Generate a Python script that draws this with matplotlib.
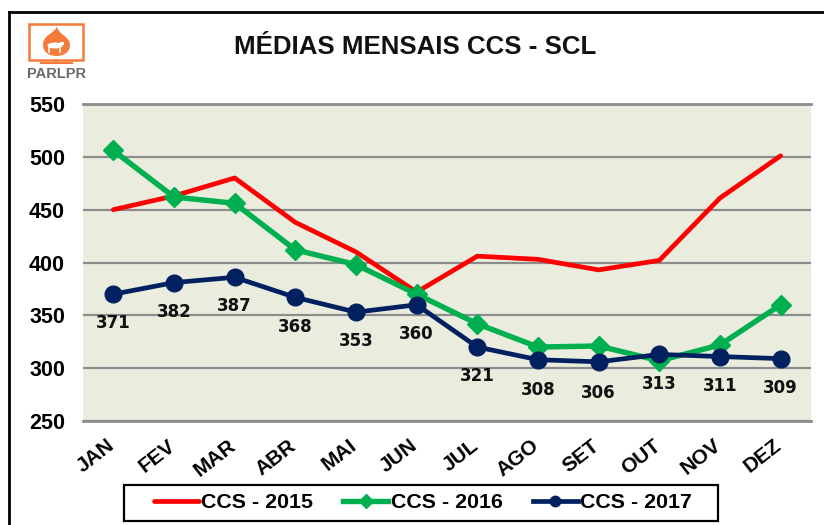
import matplotlib
matplotlib.use("Agg")
import matplotlib.pyplot as plt
from matplotlib.patches import Rectangle, PathPatch, Ellipse
from matplotlib.path import Path
from matplotlib.transforms import ScaledTranslation

plt.rcParams['font.family'] = ['Liberation Sans', 'DejaVu Sans']

W, H = 824, 525

# data
months = ["JAN", "FEV", "MAR", "ABR", "MAI", "JUN", "JUL", "AGO", "SET", "OUT", "NOV", "DEZ"]
ccs_2015 = [450, 463, 480, 438, 410, 372, 406, 403, 393, 402, 461, 501]
ccs_2016 = [506, 462, 456, 412, 398, 370, 342, 320, 321, 307, 322, 360]
ccs_2017 = [370, 381, 386, 367, 353, 360, 320, 308, 306, 313, 311, 309]
labels_2017 = ["371", "382", "387", "368", "353", "360", "321", "308", "306", "313", "311", "309"]
y_ticks = [250, 300, 350, 400, 450, 500, 550]

# label offsets under the 2017 line, in points
label_dy = [-20.5, -21, -20.5, -21, -21, -21, -20.5, -21.5, -22.5, -21.5, -21.5, -21]

RED = "#FF0000"
GREEN = "#00B050"
NAVY = "#002060"
ORANGE = "#F47B3A"
GRAY = "#8C8C8C"


def box(x0, y0, x1, y1):
    # pixel box (top-left origin) to figure fractions
    return [x0 / W, 1 - y1 / H, (x1 - x0) / W, (y1 - y0) / H]


fig = plt.figure(figsize=(W / 100, H / 100), dpi=100, facecolor="white")

# outer chart frame, only top and left show in the crop
fig.add_artist(plt.Line2D([9 / W, 9 / W], [0, 1 - 12 / H], color="black", lw=2))
fig.add_artist(plt.Line2D([9 / W, 1], [1 - 12 / H, 1 - 12 / H], color="black", lw=2))

ax = fig.add_axes(box(83, 104, 811, 421))
ax.set_facecolor("#EAEDDD")
x = list(range(len(months)))
ax.plot(x, ccs_2015, color=RED, lw=3.4, label="CCS - 2015", solid_capstyle="round", zorder=3)
ax.plot(x, ccs_2016, color=GREEN, lw=3.9, marker="D", ms=10.2, label="CCS - 2016", zorder=4)
ax.plot(x, ccs_2017, color=NAVY, lw=3.4, marker="o", ms=12, label="CCS - 2017", zorder=5)

for i, lab in enumerate(labels_2017):
    ax.annotate(lab, (x[i], ccs_2017[i]), xytext=(0, label_dy[i]), textcoords="offset points",
                ha="center", va="center", fontsize=12, fontweight="bold",
                family="DejaVu Sans", color="#111111", zorder=6)

ax.set_xlim(-0.5, 11.5)
ax.set_ylim(250, 550)
ax.set_yticks(y_ticks)
ax.set_xticks(x)
ax.set_xticklabels(months, rotation=38, ha="right", va="top", rotation_mode="anchor",
                   fontsize=15, fontweight="bold")
ax.tick_params(axis="y", length=0, pad=13, labelsize=15.5)
ax.tick_params(axis="x", length=0, pad=10)
# month labels sit left of their ticks
shift = ScaledTranslation(-7 / 100, -1 / 100, fig.dpi_scale_trans)
for t in ax.get_xticklabels():
    t.set_transform(t.get_transform() + shift)
for t in ax.get_yticklabels():
    t.set_fontweight("bold")
ax.grid(axis="y", color=GRAY, lw=1.6, zorder=1)
ax.set_axisbelow(True)
for name, sp in ax.spines.items():
    sp.set_visible(False)
ax.plot([0, 1], [0, 0], transform=ax.transAxes, color=GRAY, lw=2, clip_on=False, zorder=2)
ax.plot([0, 1], [1, 1], transform=ax.transAxes, color=GRAY, lw=2, clip_on=False, zorder=2)

fig.text(415 / W, 1 - 46.5 / H, "MÉDIAS MENSAIS CCS - SCL", ha="center", va="center",
         fontsize=18.6, fontweight="bold", color="#111111")

# legend box drawn by hand so its size can be set exactly
b = box(124, 485, 718, 521)
fig.add_artist(Rectangle((b[0], b[1]), b[2], b[3], transform=fig.transFigure, fc="white", ec="black", lw=1.6, zorder=8))
leg = fig.legend(loc="center", bbox_to_anchor=(423 / W, 1 - 502.5 / H), ncol=3,
                 frameon=False, handlelength=2.1, handletextpad=0.12, columnspacing=1.4,
                 borderpad=0, prop={"weight": "bold", "size": 15.4})
leg.set_zorder(9)
for h in leg.get_lines():
    h.set_markersize(7.5)

# logo: orange screen with a drop and a cow
logo = fig.add_axes([0, 0, 1, 1], facecolor="none")
logo.set_xlim(0, W)
logo.set_ylim(H, 0)
logo.axis("off")
logo.add_patch(Rectangle((29.5, 23.5), 54, 36, fc="white", ec=ORANGE, lw=1.8))
logo.plot([41, 72], [62.5, 62.5], color=ORANGE, lw=1.5)
logo.plot([56.5, 56.5], [60, 62], color=ORANGE, lw=1.5)
drop = Path([(57, 26), (56, 33), (43, 34), (43, 45), (43, 52), (49, 56), (56.5, 56),
             (64, 56), (70, 52), (70, 45), (70, 36), (58, 35), (57, 26)],
            [Path.MOVETO] + [Path.CURVE4] * 12)
logo.add_patch(PathPatch(drop, fc=ORANGE, ec="none"))
logo.add_patch(Ellipse((55, 45.5), 15, 6, fc="white", ec="none"))
logo.add_patch(Rectangle((60, 42), 4, 3, fc="white", ec="none"))
logo.plot([49, 49], [47, 52], color="white", lw=1.2)
logo.plot([60, 60], [47, 52], color="white", lw=1.2)
logo.text(56.5, 74.5, "PARLPR", ha="center", va="center", fontsize=10.5, fontweight="bold", color="#666A6E")

fig.savefig("out.png", dpi=100)
